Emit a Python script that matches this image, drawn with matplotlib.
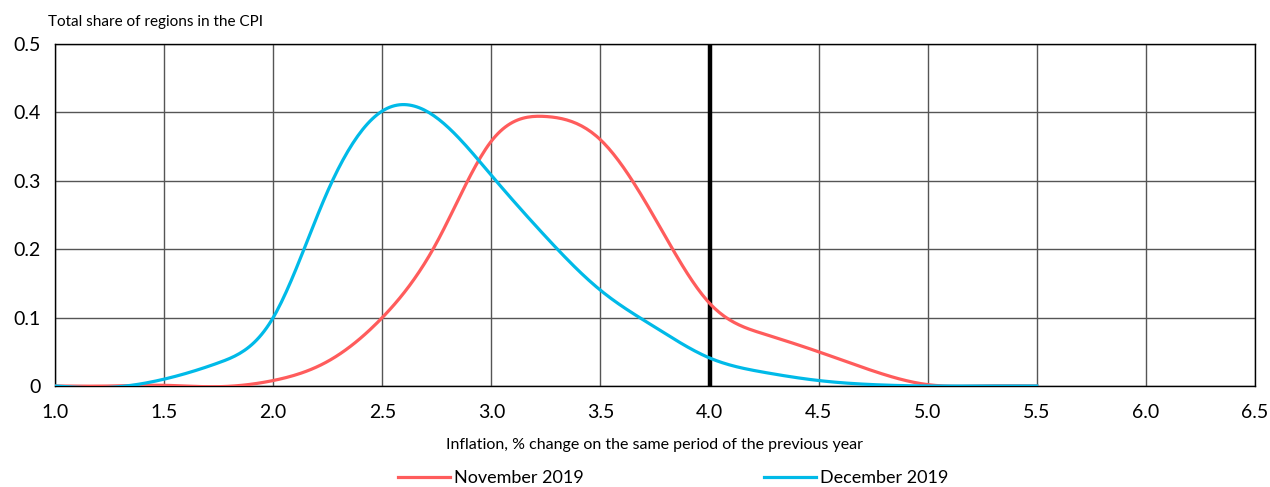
import matplotlib.pyplot as plt
import numpy as np

plt.rcParams['font.family'] = ['Lato', 'DejaVu Sans']

# Inflation grid (x) and share of regions in the CPI for each month
inflation = [1.0, 1.25, 1.5, 1.75, 2.0, 2.25, 2.5, 2.75, 3.0, 3.25, 3.5,
             3.75, 4.0, 4.25, 4.5, 4.75, 5.0, 5.25, 5.5]
nov_2019 = [0.0, 0.0, 0.001, -0.001, 0.008, 0.036, 0.1, 0.21, 0.358, 0.394,
            0.36, 0.245, 0.121, 0.076, 0.05, 0.022, 0.002, 0.0, 0.0]
dec_2019 = [0.0, -0.002, 0.01, 0.034, 0.1, 0.285, 0.402, 0.392, 0.308, 0.218,
            0.14, 0.086, 0.041, 0.02, 0.008, 0.002, 0.0, 0.0, 0.0]

x_ticks = [1.0, 1.5, 2.0, 2.5, 3.0, 3.5, 4.0, 4.5, 5.0, 5.5, 6.0, 6.5]
y_ticks = [0, 0.1, 0.2, 0.3, 0.4, 0.5]
y_labels = ['0', '0.1', '0.2', '0.3', '0.4', '0.5']
target = 4.0


def smooth(xs, ys, n=400):
    # natural cubic spline through the points (drawing only)
    x = np.asarray(xs, float)
    y = np.asarray(ys, float)
    k = len(x)
    h = np.diff(x)
    A = np.zeros((k, k))
    r = np.zeros(k)
    A[0, 0] = A[-1, -1] = 1
    for i in range(1, k - 1):
        A[i, i - 1] = h[i - 1]
        A[i, i] = 2 * (h[i - 1] + h[i])
        A[i, i + 1] = h[i]
        r[i] = 3 * ((y[i + 1] - y[i]) / h[i] - (y[i] - y[i - 1]) / h[i - 1])
    c = np.linalg.solve(A, r)
    b = (y[1:] - y[:-1]) / h - h * (2 * c[:-1] + c[1:]) / 3
    d = (c[1:] - c[:-1]) / (3 * h)
    xf = np.linspace(x[0], x[-1], n)
    idx = np.clip(np.searchsorted(x, xf, side='right') - 1, 0, k - 2)
    dx = xf - x[idx]
    yf = y[idx] + b[idx] * dx + c[idx] * dx ** 2 + d[idx] * dx ** 3
    return xf, yf


fig = plt.figure(figsize=(12.7, 4.87), dpi=100)
ax = fig.add_axes([55 / 1270, 1 - 386 / 487, 1200 / 1270, 342 / 487])

ax.set_xlim(1.0, 6.5)
ax.set_ylim(0, 0.5)
ax.set_xticks(x_ticks)
ax.set_xticklabels([f'{v:.1f}' for v in x_ticks])
ax.set_yticks(y_ticks)
ax.set_yticklabels(y_labels)
ax.grid(True, color='#555555', linewidth=1.0)
ax.set_axisbelow(True)
ax.tick_params(length=0, labelsize=14)
ax.tick_params(axis='x', pad=13)
ax.tick_params(axis='y', pad=10)
for s in ax.spines.values():
    s.set_color('black')
    s.set_linewidth(1.0)

ax.axvline(target, color='black', linewidth=3.2, zorder=2)

xn, yn = smooth(inflation, nov_2019)
xd, yd = smooth(inflation, dec_2019)
ax.plot(xn, yn, color='#FF5C5C', linewidth=2.3, label='November 2019', zorder=3)
ax.plot(xd, yd, color='#00BAE8', linewidth=2.3, label='December 2019', zorder=3)

ax.set_xlabel('Inflation, % change on the same period of the previous year',
              fontsize=11.5, labelpad=12)
fig.text(48 / 1270, 1 - 22 / 487, 'Total share of regions in the CPI',
         fontsize=11, va='center', ha='left')

fig.legend(loc='center', bbox_to_anchor=(0.53, 1 - 478 / 487), ncol=2,
           frameon=False, fontsize=13, handlelength=2.9, columnspacing=10,
           handletextpad=0.2)

fig.savefig('out.png', dpi=100)
